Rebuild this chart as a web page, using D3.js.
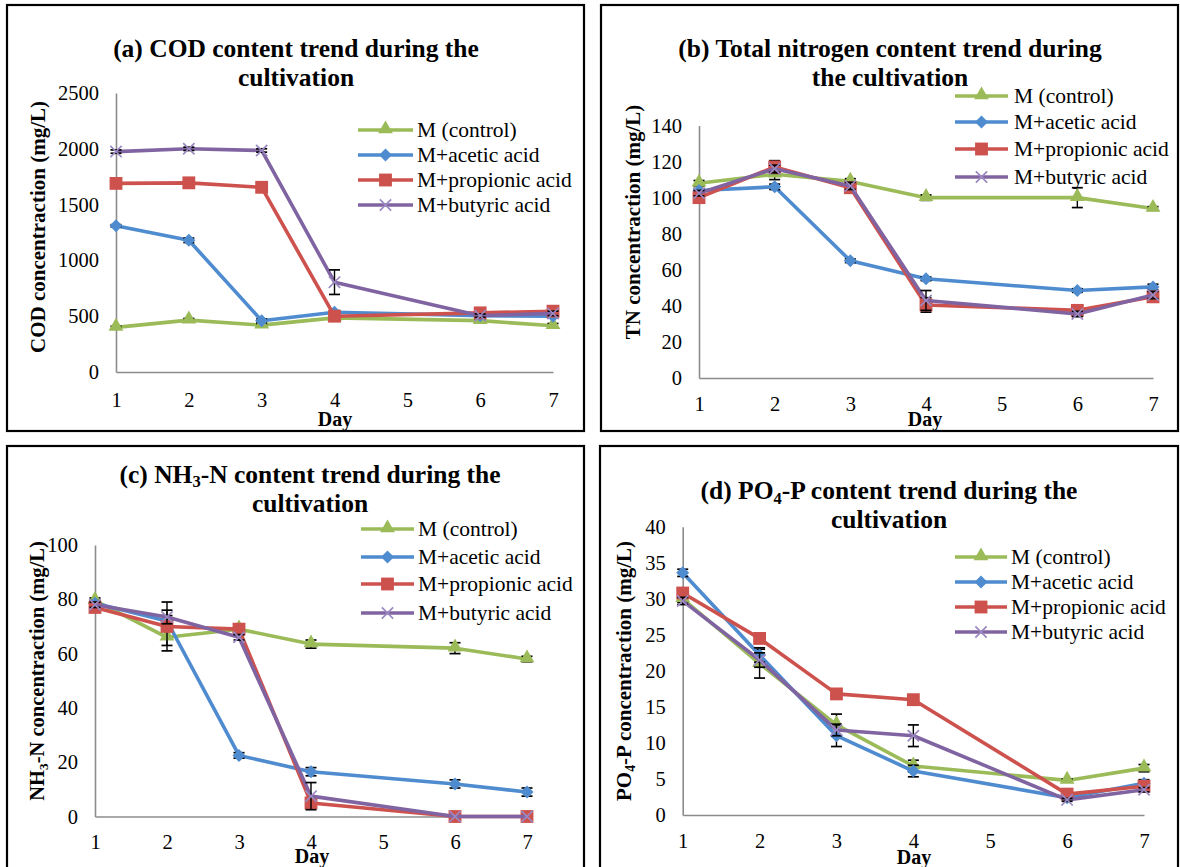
<!DOCTYPE html>
<html>
<head>
<meta charset="utf-8">
<script src="https://cdn.jsdelivr.net/npm/d3@7"></script>
<style>
  body { margin: 0; background: #fff; }
  text { font-family: "Liberation Serif", "Times New Roman", serif; fill: #000; }
</style>
</head>
<body>
<div id="chart"></div>
<script>
// sampling days (no sample on day 5)
var days = [1, 2, 3, 4, 6, 7];
var dayTicks = [1, 2, 3, 4, 5, 6, 7];
var seriesNames = ["M (control)", "M+acetic acid", "M+propionic acid", "M+butyric acid"];
var seriesColors = ["#9BBB59", "#4F8BCF", "#CD524E", "#8064A2"];
var seriesMarkers = ["triangle", "diamond", "square", "times"];

// (a) COD, mg/L
var codControl   = [400, 465, 420, 485, 460, 415];
var codAcetic    = [1310, 1180, 460, 535, 505, 500];
var codPropionic = [1690, 1695, 1655, 500, 530, 545];
var codButyric   = [1975, 2000, 1985, 805, 505, 525];
var codControlErr   = [10, 15, 10, 15, 15, 20];
var codAceticErr    = [10, 20, 15, 15, 10, 15];
var codPropionicErr = [15, 15, 20, 20, 15, 20];
var codButyricErr   = [15, 15, 15, 110, 15, 20];

// (b) total nitrogen, mg/L
var tnControl   = [108, 113, 109, 100, 100, 94];
var tnAcetic    = [104, 106, 65, 55, 48.5, 50.5];
var tnPropionic = [100, 117, 105.5, 40.5, 37.5, 45];
var tnButyric   = [102.5, 116, 106.5, 43, 35.5, 46];
var tnControlErr   = [1.5, 3, 1.5, 1.5, 5.5, 1];
var tnAceticErr    = [1, 1.5, 1, 1, 1, 1.5];
var tnPropionicErr = [1.5, 3.5, 2, 4, 1.5, 2];
var tnButyricErr   = [1.5, 2, 2, 5.5, 1.5, 2];

// (c) NH3-N, mg/L
var nhControl   = [79.5, 66, 69, 63.5, 62, 58];
var nhAcetic    = [78.5, 72, 22.5, 16.5, 12, 9];
var nhPropionic = [77, 70, 69, 5, 0, 0];
var nhButyric   = [78, 73.5, 66, 7.5, 0, 0];
var nhControlErr   = [1, 3, 1, 1.5, 2, 1];
var nhAceticErr    = [1, 2, 1, 1.5, 1.5, 1.5];
var nhPropionicErr = [1, 9, 1.5, 1.5, 0, 0];
var nhButyricErr   = [1, 2.5, 1, 5, 0, 0];

// (d) PO4-P, mg/L
var poControl   = [30, 21, 12.5, 6.8, 4.8, 6.5];
var poAcetic    = [33.6, 22.2, 11, 6.1, 2.4, 4.4];
var poPropionic = [30.8, 24.5, 16.8, 16, 2.9, 4];
var poButyric   = [29.7, 21.5, 11.8, 11, 2.1, 3.5];
var poControlErr   = [0.5, 2, 1.5, 0.8, 0.2, 0.5];
var poAceticErr    = [0.5, 1, 1.5, 0.8, 0.2, 0.5];
var poPropionicErr = [0.5, 0.5, 0.5, 0.5, 0.2, 0.4];
var poButyricErr   = [0.5, 1, 0.8, 1.5, 0.2, 0.3];

var svg = d3.select("#chart").append("svg")
    .attr("width", 1180)
    .attr("height", 867);

// writes "NH_{3}-N" style strings with subscripts
function richText(sel, str, size) {
  var parts = str.split(/(_\{[^}]*\})/);
  var down = false;
  parts.forEach(function(p) {
    if (!p) return;
    if (p[0] == "_") {
      sel.append("tspan").attr("dy", size * 0.3).attr("font-size", size * 0.65).text(p.slice(2, -1));
      down = true;
    } else {
      sel.append("tspan").attr("dy", down ? -size * 0.3 : 0).text(p);
      down = false;
    }
  });
}

function marker(g, type, color, cx, cy) {
  if (type == "triangle") {
    g.append("path").attr("d", d3.symbol(d3.symbolTriangle, 95)())
      .attr("transform", "translate(" + cx + "," + (cy - 1) + ")").attr("fill", color);
  } else if (type == "diamond") {
    g.append("path").attr("d", d3.symbol(d3.symbolSquare, 85)())
      .attr("transform", "translate(" + cx + "," + cy + ") rotate(45)").attr("fill", color);
  } else if (type == "square") {
    g.append("path").attr("d", d3.symbol(d3.symbolSquare, 165)())
      .attr("transform", "translate(" + cx + "," + cy + ")").attr("fill", color);
  } else {
    g.append("path").attr("d", d3.symbol(d3.symbolTimes, 85)())
      .attr("transform", "translate(" + cx + "," + cy + ")")
      .attr("fill", "none").attr("stroke", "#9C88C0").attr("stroke-width", 1.7);
  }
}

function drawPanel(p) {
  var g = svg.append("g");

  g.append("rect")
    .attr("x", p.box[0]).attr("y", p.box[1])
    .attr("width", p.box[2]).attr("height", p.box[3])
    .attr("fill", "#fff").attr("stroke", "#000").attr("stroke-width", 2.2);

  var x = d3.scaleLinear().domain([1, 7]).range([p.x1, p.x7]);
  var y = d3.scaleLinear().domain([0, p.yMax]).range([p.y0, p.yTop]);

  var xAxis = g.append("g")
      .attr("transform", "translate(0," + p.y0 + ")")
      .call(d3.axisBottom(x).tickValues(dayTicks).tickSize(0).tickPadding(p.xPad).tickFormat(d3.format("d")));
  var yAxis = g.append("g")
      .attr("transform", "translate(" + p.x1 + ",0)")
      .call(d3.axisLeft(y).tickValues(d3.range(0, p.yMax + 1e-9, p.yStep)).tickSize(0).tickPadding(17).tickFormat(d3.format("d")));
  [xAxis, yAxis].forEach(function(a) {
    a.select(".domain").attr("stroke", "#8c8c8c").attr("stroke-width", 1.6);
    a.selectAll("text").attr("font-size", 20.5);
  });

  // title, two lines
  p.title.forEach(function(line, i) {
    var t = g.append("text")
      .attr("x", p.titleX).attr("y", p.titleY[i])
      .attr("text-anchor", "middle").attr("dominant-baseline", "central")
      .attr("font-size", 25.5).attr("font-weight", "bold");
    richText(t, line, 25.5);
  });

  var yt = g.append("text")
    .attr("transform", "translate(" + p.yTitle[0] + "," + p.yTitle[1] + ") rotate(-90)")
    .attr("text-anchor", "middle").attr("dominant-baseline", "central")
    .attr("font-size", p.yTitleSize).attr("font-weight", "bold");
  richText(yt, p.yLabel, p.yTitleSize);

  g.append("text")
    .attr("x", p.dayPos[0]).attr("y", p.dayPos[1])
    .attr("text-anchor", "middle").attr("dominant-baseline", "central")
    .attr("font-size", 20).attr("font-weight", "bold")
    .text("Day");

  var line = d3.line()
      .x(function(d) { return x(d.day); })
      .y(function(d) { return y(d.v); });

  p.series.forEach(function(vals, s) {
    var pts = days.map(function(d, i) { return {day: d, v: vals[i], e: p.errors[s][i]}; });
    g.append("path")
      .datum(pts)
      .attr("fill", "none")
      .attr("stroke", seriesColors[s])
      .attr("stroke-width", 3.6)
      .attr("stroke-linejoin", "round")
      .attr("d", line);
    // error bars sit under the markers
    pts.forEach(function(d) {
      if (!d.e) return;
      var cx = x(d.day), lo = y(Math.max(0, d.v - d.e)), hi = y(d.v + d.e);
      g.append("line").attr("x1", cx).attr("x2", cx).attr("y1", lo).attr("y2", hi)
        .attr("stroke", "#000").attr("stroke-width", 1.4);
      [lo, hi].forEach(function(yy) {
        g.append("line").attr("x1", cx - 5.5).attr("x2", cx + 5.5).attr("y1", yy).attr("y2", yy)
          .attr("stroke", "#000").attr("stroke-width", 1.7);
      });
    });
    pts.forEach(function(d) {
      marker(g, seriesMarkers[s], seriesColors[s], x(d.day), y(d.v));
    });
  });

  // legend
  seriesNames.forEach(function(name, s) {
    var ly = p.legendY[s];
    g.append("line")
      .attr("x1", p.legendX[0]).attr("x2", p.legendX[1])
      .attr("y1", ly).attr("y2", ly)
      .attr("stroke", seriesColors[s]).attr("stroke-width", 3.6);
    marker(g, seriesMarkers[s], seriesColors[s], (p.legendX[0] + p.legendX[1]) / 2, ly);
    g.append("text")
      .attr("x", p.legendX[2]).attr("y", ly)
      .attr("dominant-baseline", "central")
      .attr("font-size", 21.5)
      .text(name);
  });
}

drawPanel({
  box: [7, 5, 577, 426],
  x1: 116, x7: 553, y0: 372, yTop: 93, yMax: 2500, yStep: 500, xPad: 20,
  title: ["(a) COD content trend during the", "cultivation"],
  titleX: 296, titleY: [48, 77],
  yLabel: "COD concentraction (mg/L)", yTitle: [38, 227], yTitleSize: 21,
  dayPos: [335, 419],
  legendX: [358, 413, 417], legendY: [130, 155, 180, 205],
  series: [codControl, codAcetic, codPropionic, codButyric],
  errors: [codControlErr, codAceticErr, codPropionicErr, codButyricErr]
});

drawPanel({
  box: [601, 5, 577, 426],
  x1: 699, x7: 1153, y0: 378, yTop: 125.5, yMax: 140, yStep: 20, xPad: 18,
  title: ["(b) Total nitrogen content trend during", "the cultivation"],
  titleX: 890, titleY: [48, 77],
  yLabel: "TN concentraction (mg/L)", yTitle: [633, 222], yTitleSize: 21,
  dayPos: [925, 419],
  legendX: [955, 1008, 1014], legendY: [96, 122, 149, 177],
  series: [tnControl, tnAcetic, tnPropionic, tnButyric],
  errors: [tnControlErr, tnAceticErr, tnPropionicErr, tnButyricErr]
});

drawPanel({
  box: [7, 446, 577, 430],
  x1: 95, x7: 527, y0: 816.5, yTop: 545, yMax: 100, yStep: 20, xPad: 18,
  title: ["(c) NH_{3}-N content trend during the", "cultivation"],
  titleX: 310, titleY: [473.5, 503],
  yLabel: "NH_{3}-N concentraction (mg/L)", yTitle: [37, 671], yTitleSize: 20.5,
  dayPos: [312, 856],
  legendX: [361, 414, 418], legendY: [529, 557, 584, 613],
  series: [nhControl, nhAcetic, nhPropionic, nhButyric],
  errors: [nhControlErr, nhAceticErr, nhPropionicErr, nhButyricErr]
});

drawPanel({
  box: [600, 446, 578, 430],
  x1: 682.7, x7: 1144, y0: 815, yTop: 526.7, yMax: 40, yStep: 5, xPad: 18,
  title: ["(d) PO_{4}-P content trend during the", "cultivation"],
  titleX: 889, titleY: [490, 518.5],
  yLabel: "PO_{4}-P concentraction (mg/L)", yTitle: [624, 671], yTitleSize: 21,
  dayPos: [914, 857],
  legendX: [955, 1007, 1011], legendY: [557, 582, 607, 632],
  series: [poControl, poAcetic, poPropionic, poButyric],
  errors: [poControlErr, poAceticErr, poPropionicErr, poButyricErr]
});
</script>
</body>
</html>
